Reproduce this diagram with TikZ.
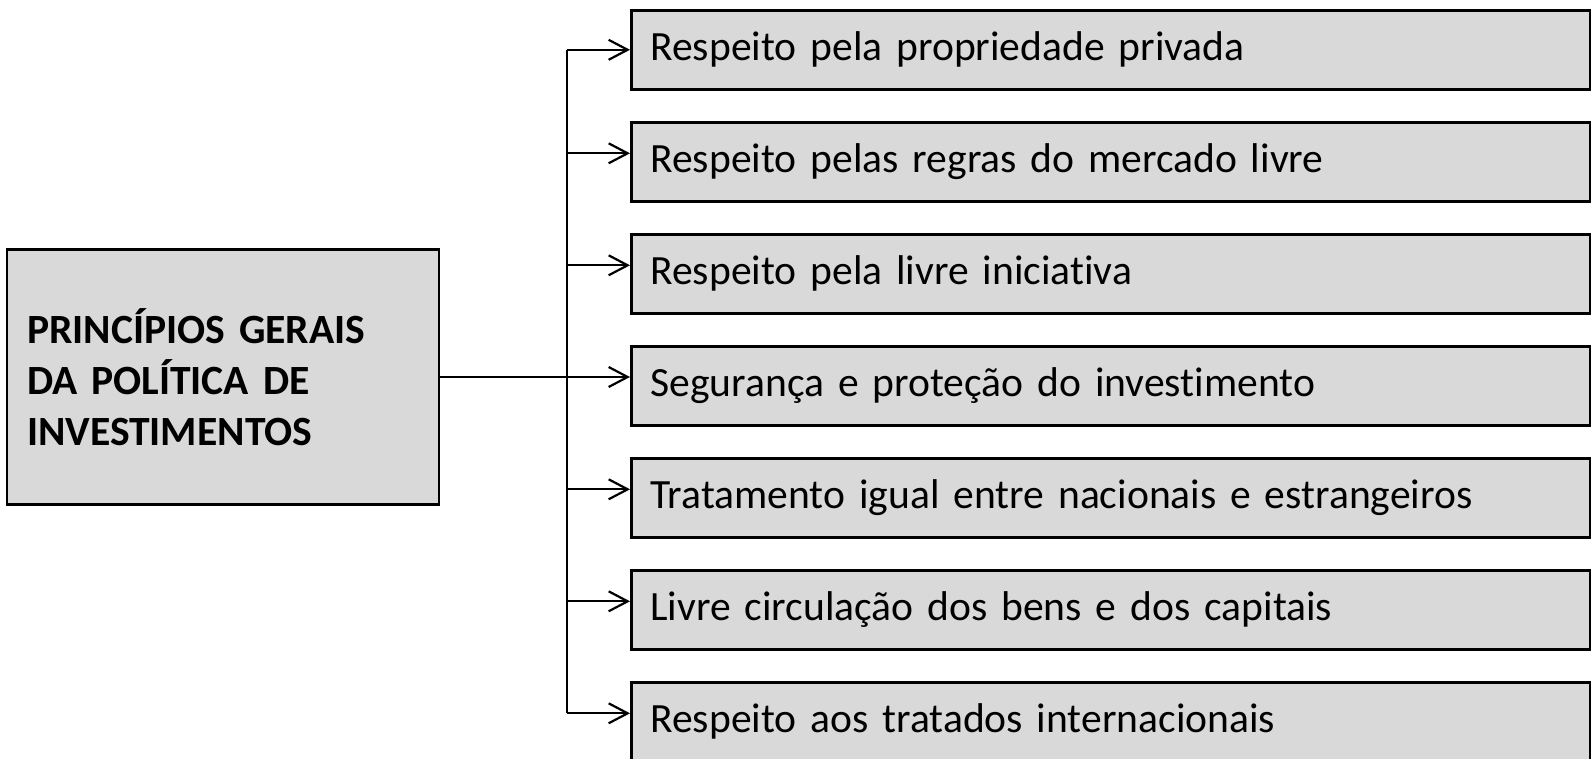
\documentclass[tikz,border=0pt]{standalone}
\usepackage{fontspec}
\setmainfont{Carlito}[Ligatures={NoCommon,NoContextual}]
\usetikzlibrary{arrows.meta,calc}

\newlength{\du}
\setlength{\du}{0.5pt}

\definecolor{caixacolor}{rgb}{0.850980, 0.850980, 0.850980}
\tikzset{
  caixa/.style={draw=black, fill=caixacolor, line width=2.6\du,
    minimum width=959\du, minimum height=79\du, inner xsep=19\du,
    text width=921\du, align=left, anchor=north west,
    font=\fontsize{20.8}{25}\selectfont},
  titulocaixa/.style={draw=black, fill=caixacolor, line width=2.6\du,
    minimum width=432\du, minimum height=255\du, inner xsep=20\du,
    text width=392\du, align=left,
    font=\fontsize{20.8}{25.5}\selectfont\bfseries},
  linha/.style={line width=2.2\du},
  seta/.style={line width=2.2\du, -{Straight Barb[length=9.5pt,width=10pt]}},
}

\begin{document}
\begin{tikzpicture}
\pgftransformxscale{1.000000}
\pgftransformyscale{-1.000000}
\useasboundingbox (0\du,0\du) rectangle (1591\du,759\du);

% caixa da esquerda
\node[titulocaixa] (titulo) at (223\du,377\du){PRINCÍPIOS GERAIS\\DA POLÍTICA DE\\INVESTIMENTOS};

% caixas da direita
\node[caixa] (p1) at (630\du,9\du){Respeito pela propriedade privada};
\node[caixa] (p2) at (630\du,121\du){Respeito pelas regras do mercado livre};
\node[caixa] (p3) at (630\du,233\du){Respeito pela livre iniciativa};
\node[caixa] (p4) at (630\du,345\du){Segurança e proteção do investimento};
\node[caixa] (p5) at (630\du,457\du){Tratamento igual entre nacionais e estrangeiros};
\node[caixa] (p6) at (630\du,569\du){Livre circulação dos bens e dos capitais};
\node[caixa] (p7) at (630\du,681\du){Respeito aos tratados internacionais};

% pontos de chegada das setas
\coordinate (e2) at ($(p2.west)+(0,-8.5\du)$);
\coordinate (e3) at ($(p3.west)+(0,-8.5\du)$);
\coordinate (e5) at ($(p5.west)+(0,-8.5\du)$);
\coordinate (e6) at ($(p6.west)+(0,-8.5\du)$);
\coordinate (e7) at ($(p7.west)+(0,-8.5\du)$);
\coordinate (tronco) at (567\du,0\du);

% ligacoes
\draw[linha] (tronco |- p1.west)--(tronco |- e7);
\draw[seta] (titulo.east)--(titulo.east -| p4.west);
\draw[seta] (tronco |- p1.west)--(p1.west);
\draw[seta] (tronco |- e2)--(e2);
\draw[seta] (tronco |- e3)--(e3);
\draw[seta] (tronco |- e5)--(e5);
\draw[seta] (tronco |- e6)--(e6);
\draw[seta] (tronco |- e7)--(e7);
\end{tikzpicture}
\end{document}
